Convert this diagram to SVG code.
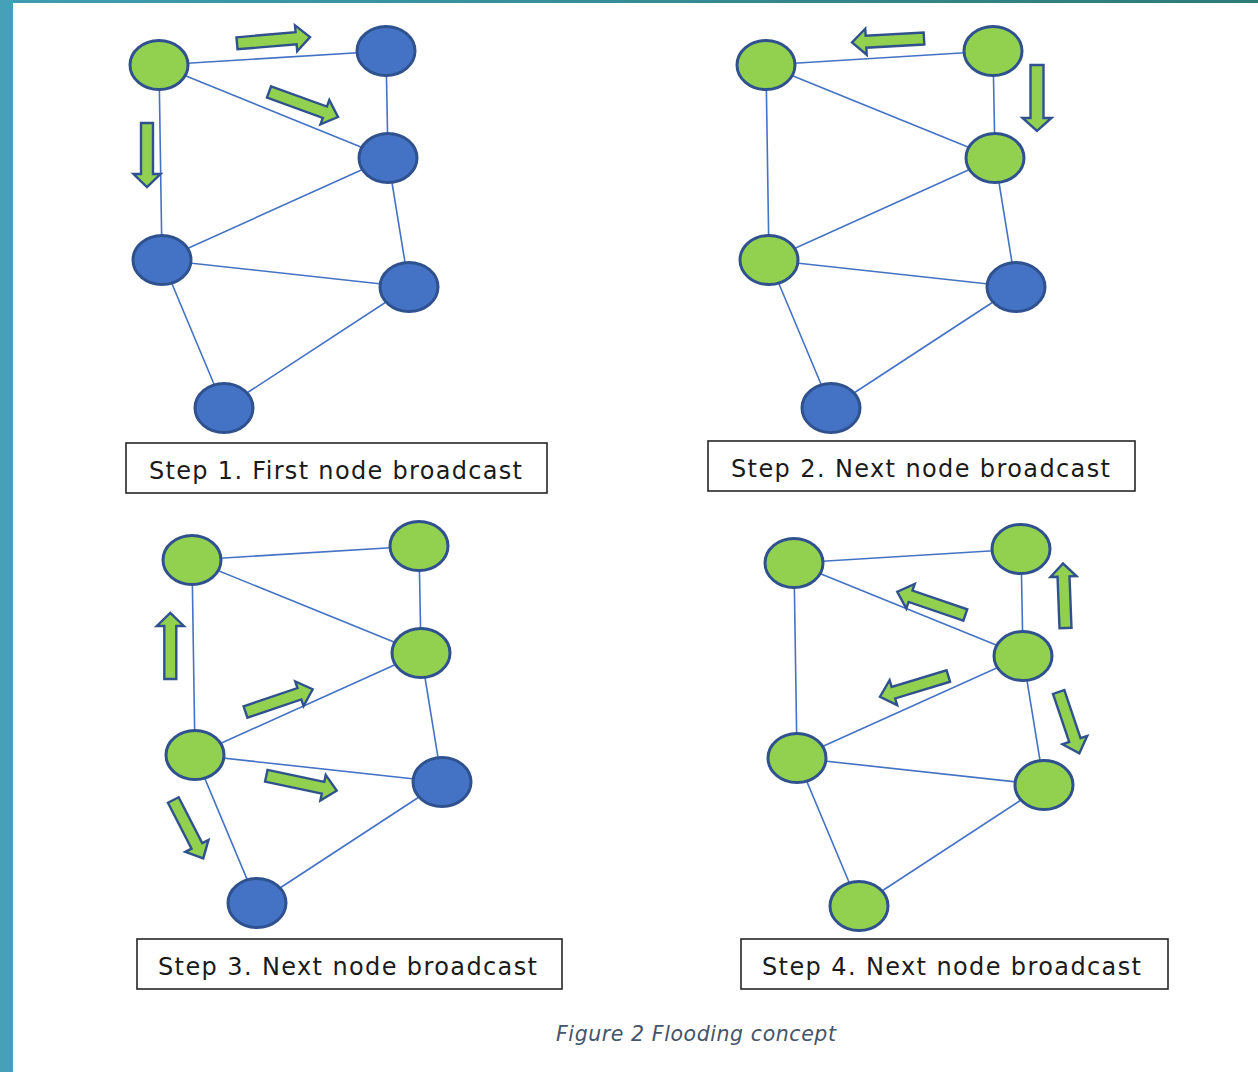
<svg xmlns="http://www.w3.org/2000/svg" width="1258" height="1072" viewBox="0 0 1258 1072">
<defs>
<linearGradient id="topbar" x1="0" y1="0" x2="1" y2="0">
<stop offset="0" stop-color="#3E9DB2"/>
<stop offset="1" stop-color="#2E7B76"/>
</linearGradient>
</defs>
<style>
.g{fill:#92D050;stroke:#2F528F;stroke-width:3}
.b{fill:#4472C4;stroke:#2F528F;stroke-width:3}
.e{stroke:#4472C4;stroke-width:1.6;fill:none}
.ar{fill:#92D050;stroke:#2F528F;stroke-width:2.4;stroke-linejoin:miter}
.box{fill:#fff;stroke:#262626;stroke-width:1.6}
.lbl{font-family:"DejaVu Sans","Verdana",sans-serif;font-size:24px;fill:#1a1a1a}
.cap{font-family:"DejaVu Sans",sans-serif;font-style:italic;font-size:20.5px;fill:#44546A}
</style>
<rect x="0" y="0" width="1258" height="1072" fill="#fff"/>
<rect x="0" y="0" width="1258" height="3" fill="url(#topbar)"/>
<rect x="0" y="0" width="13" height="1072" fill="#46A1B8"/>

<g id="connectors">
<g>
<line class="e" x1="159" y1="65" x2="386" y2="51"/>
<line class="e" x1="159" y1="65" x2="388" y2="158"/>
<line class="e" x1="159" y1="65" x2="162" y2="260"/>
<line class="e" x1="386" y1="51" x2="388" y2="158"/>
<line class="e" x1="388" y1="158" x2="162" y2="260"/>
<line class="e" x1="388" y1="158" x2="409" y2="287"/>
<line class="e" x1="162" y1="260" x2="409" y2="287"/>
<line class="e" x1="162" y1="260" x2="224" y2="408"/>
<line class="e" x1="409" y1="287" x2="224" y2="408"/>
</g>
<g transform="translate(607,0)">
<line class="e" x1="159" y1="65" x2="386" y2="51"/>
<line class="e" x1="159" y1="65" x2="388" y2="158"/>
<line class="e" x1="159" y1="65" x2="162" y2="260"/>
<line class="e" x1="386" y1="51" x2="388" y2="158"/>
<line class="e" x1="388" y1="158" x2="162" y2="260"/>
<line class="e" x1="388" y1="158" x2="409" y2="287"/>
<line class="e" x1="162" y1="260" x2="409" y2="287"/>
<line class="e" x1="162" y1="260" x2="224" y2="408"/>
<line class="e" x1="409" y1="287" x2="224" y2="408"/>
</g>
<g transform="translate(33,495)">
<line class="e" x1="159" y1="65" x2="386" y2="51"/>
<line class="e" x1="159" y1="65" x2="388" y2="158"/>
<line class="e" x1="159" y1="65" x2="162" y2="260"/>
<line class="e" x1="386" y1="51" x2="388" y2="158"/>
<line class="e" x1="388" y1="158" x2="162" y2="260"/>
<line class="e" x1="388" y1="158" x2="409" y2="287"/>
<line class="e" x1="162" y1="260" x2="409" y2="287"/>
<line class="e" x1="162" y1="260" x2="224" y2="408"/>
<line class="e" x1="409" y1="287" x2="224" y2="408"/>
</g>
<g transform="translate(635,498)">
<line class="e" x1="159" y1="65" x2="386" y2="51"/>
<line class="e" x1="159" y1="65" x2="388" y2="158"/>
<line class="e" x1="159" y1="65" x2="162" y2="260"/>
<line class="e" x1="386" y1="51" x2="388" y2="158"/>
<line class="e" x1="388" y1="158" x2="162" y2="260"/>
<line class="e" x1="388" y1="158" x2="409" y2="287"/>
<line class="e" x1="162" y1="260" x2="409" y2="287"/>
<line class="e" x1="162" y1="260" x2="224" y2="408"/>
<line class="e" x1="409" y1="287" x2="224" y2="408"/>
</g>
</g>

<!-- Panel 1 nodes -->
<g id="p1-n1"><ellipse class="g" cx="159" cy="65" rx="29" ry="24.5"/></g>
<g id="p1-n2"><ellipse class="b" cx="386" cy="51" rx="29" ry="24.5"/></g>
<g id="p1-n3"><ellipse class="b" cx="388" cy="158" rx="29" ry="24.5"/></g>
<g id="p1-n4"><ellipse class="b" cx="162" cy="260" rx="29" ry="24.5"/></g>
<g id="p1-n5"><ellipse class="b" cx="409" cy="287" rx="29" ry="24.5"/></g>
<g id="p1-n6"><ellipse class="b" cx="224" cy="408" rx="29" ry="24.5"/></g>

<!-- Panel 2 nodes -->
<g id="p2-n1"><ellipse class="g" cx="766" cy="65" rx="29" ry="24.5"/></g>
<g id="p2-n2"><ellipse class="g" cx="993" cy="51" rx="29" ry="24.5"/></g>
<g id="p2-n3"><ellipse class="g" cx="995" cy="158" rx="29" ry="24.5"/></g>
<g id="p2-n4"><ellipse class="g" cx="769" cy="260" rx="29" ry="24.5"/></g>
<g id="p2-n5"><ellipse class="b" cx="1016" cy="287" rx="29" ry="24.5"/></g>
<g id="p2-n6"><ellipse class="b" cx="831" cy="408" rx="29" ry="24.5"/></g>

<!-- Panel 3 nodes -->
<g id="p3-n1"><ellipse class="g" cx="192" cy="560" rx="29" ry="24.5"/></g>
<g id="p3-n2"><ellipse class="g" cx="419" cy="546" rx="29" ry="24.5"/></g>
<g id="p3-n3"><ellipse class="g" cx="421" cy="653" rx="29" ry="24.5"/></g>
<g id="p3-n4"><ellipse class="g" cx="195" cy="755" rx="29" ry="24.5"/></g>
<g id="p3-n5"><ellipse class="b" cx="442" cy="782" rx="29" ry="24.5"/></g>
<g id="p3-n6"><ellipse class="b" cx="257" cy="903" rx="29" ry="24.5"/></g>

<!-- Panel 4 nodes -->
<g id="p4-n1"><ellipse class="g" cx="794" cy="563" rx="29" ry="24.5"/></g>
<g id="p4-n2"><ellipse class="g" cx="1021" cy="549" rx="29" ry="24.5"/></g>
<g id="p4-n3"><ellipse class="g" cx="1023" cy="656" rx="29" ry="24.5"/></g>
<g id="p4-n4"><ellipse class="g" cx="797" cy="758" rx="29" ry="24.5"/></g>
<g id="p4-n5"><ellipse class="g" cx="1044" cy="785" rx="29" ry="24.5"/></g>
<g id="p4-n6"><ellipse class="g" cx="859" cy="906" rx="29" ry="24.5"/></g>

<!-- Broadcast arrows -->
<g id="arrows">
<path class="ar" transform="translate(237,43.3) rotate(-4.9)" d="M0,-6 H59.3 V-13 L73.3,0 L59.3,13 V6 H0 Z"/>
<path class="ar" transform="translate(269,92) rotate(19.9)" d="M0,-6 H59.4 V-13 L73.4,0 L59.4,13 V6 H0 Z"/>
<path class="ar" transform="translate(147,123) rotate(90)" d="M0,-6 H51 V-13.5 L64,0 L51,13.5 V6 H0 Z"/>

<path class="ar" transform="translate(924,38.5) rotate(176.8)" d="M0,-6 H58.1 V-13 L72.1,0 L58.1,13 V6 H0 Z"/>
<path class="ar" transform="translate(1037,65) rotate(90)" d="M0,-6.5 H53 V-14.5 L66,0 L53,14.5 V6.5 H0 Z"/>

<path class="ar" transform="translate(170.3,679) rotate(-90)" d="M0,-6 H53 V-13.5 L66,0 L53,13.5 V6 H0 Z"/>
<path class="ar" transform="translate(245.5,712) rotate(-18.7)" d="M0,-6 H56.9 V-13 L70.9,0 L56.9,13 V6 H0 Z"/>
<path class="ar" transform="translate(266.3,775.7) rotate(12)" d="M0,-6 H58 V-13 L72,0 L58,13 V6 H0 Z"/>
<path class="ar" transform="translate(173.3,800) rotate(62.8)" d="M0,-6 H51.6 V-13 L65.6,0 L51.6,13 V6 H0 Z"/>

<path class="ar" transform="translate(1065.5,628) rotate(-92.2)" d="M0,-6 H51.5 V-13 L64.5,0 L51.5,13 V6 H0 Z"/>
<path class="ar" transform="translate(965.3,615) rotate(-161.1)" d="M0,-6 H57.9 V-13 L71.9,0 L57.9,13 V6 H0 Z"/>
<path class="ar" transform="translate(948.3,676) rotate(163.1)" d="M0,-6 H57.4 V-13 L71.4,0 L57.4,13 V6 H0 Z"/>
<path class="ar" transform="translate(1058.7,692) rotate(71.4)" d="M0,-6 H50.7 V-13 L64.7,0 L50.7,13 V6 H0 Z"/>
</g>

<!-- Labels -->
<g id="label1">
<rect class="box" x="126" y="443" width="421" height="50"/>
<text class="lbl" x="149" y="479" textLength="373" lengthAdjust="spacing">Step 1. First node broadcast</text>
</g>
<g id="label2">
<rect class="box" x="708" y="441" width="427" height="50"/>
<text class="lbl" x="731" y="477" textLength="379" lengthAdjust="spacing">Step 2. Next node broadcast</text>
</g>
<g id="label3">
<rect class="box" x="137" y="939" width="425" height="50"/>
<text class="lbl" x="158" y="975" textLength="379" lengthAdjust="spacing">Step 3. Next node broadcast</text>
</g>
<g id="label4">
<rect class="box" x="741" y="939" width="427" height="50"/>
<text class="lbl" x="762" y="975" textLength="379" lengthAdjust="spacing">Step 4. Next node broadcast</text>
</g>

<text class="cap" x="556" y="1041" textLength="280" lengthAdjust="spacing">Figure 2 Flooding concept</text>
</svg>
